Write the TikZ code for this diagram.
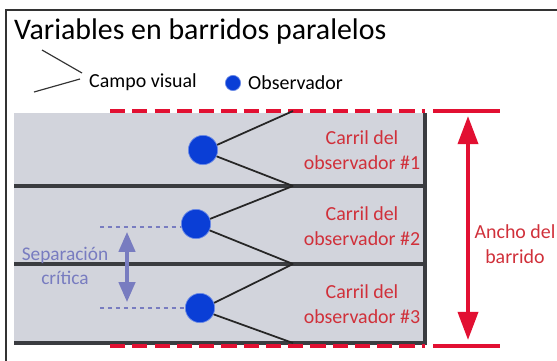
\documentclass[tikz,border=0pt]{standalone}
\usepackage{fontspec}
\setmainfont{Carlito}
\usetikzlibrary{arrows.meta}
\definecolor{lanegray}{RGB}{210,212,220}
\definecolor{lanedark}{RGB}{58,60,64}
\definecolor{obsblue}{RGB}{10,62,214}
\definecolor{swred}{RGB}{226,16,50}
\definecolor{lbred}{RGB}{208,48,58}
\definecolor{sepblue}{RGB}{120,124,192}
\tikzset{
  lane/.style={fill=lanegray, draw=none},
  laneedge/.style={draw=lanedark, line width=2.6pt},
  observer/.style={circle, fill=obsblue, draw=obsblue!60!white, line width=0.6pt, minimum size=25pt, inner sep=0pt},
  fov/.style={draw=black!85, line width=1.5pt},
  lanelabel/.style={text=lbred, font=\fontsize{17}{21}\selectfont, align=center},
  redline/.style={draw=swred, line width=4.2pt},
  sepline/.style={draw=sepblue, line width=2.4pt, dash pattern=on 3.8pt off 3pt},
}
\begin{document}
\begin{tikzpicture}[x=0.03cm, y=-0.03cm]
  \useasboundingbox (0,0) rectangle (557,360);
  % frame and title
  \draw[black!80, line width=1.6pt] (6,10) rectangle (570,375);
  \node[anchor=west, font=\fontsize{25.5}{28}\selectfont, inner sep=0pt] (title) at (14,32) {Variables en barridos paralelos};
  % legend
  \coordinate (fovA) at (42,50);
  \coordinate (fovB) at (82,73);
  \coordinate (fovC) at (80,79);
  \coordinate (fovD) at (34,92);
  \draw[black!80, line width=1pt] (fovA) -- (fovB);
  \draw[black!80, line width=1pt] (fovC) -- (fovD);
  \node[anchor=west, font=\fontsize{17}{20}\selectfont, inner sep=0pt] (campo) at (89,82) {Campo visual};
  \node[observer, minimum size=13pt] (legobs) at (233,83) {};
  \node[anchor=west, font=\fontsize{17}{20}\selectfont, inner sep=0pt] (obslabel) at (248,83) {Observador};
  % lanes
  \fill[lane] (14,113) rectangle (425,186);
  \fill[lane] (14,188) rectangle (425,264);
  \fill[lane] (14,266) rectangle (425,343);
  \draw[laneedge] (14,186) -- (425,186) -- (425,113);
  \draw[laneedge] (14,264) -- (425,264) -- (425,188);
  \draw[laneedge] (14,343) -- (425,343) -- (425,266);
  % sweep width
  \draw[redline, dash pattern=on 13pt off 6pt] (110,111) -- (425,111);
  \draw[redline, dash pattern=on 13pt off 6pt] (110,346) -- (425,346);
  \coordinate (topL) at (433,111);
  \coordinate (topR) at (500,111);
  \coordinate (botL) at (433,346);
  \coordinate (botR) at (500,346);
  \draw[redline] (topL) -- (topR);
  \draw[redline] (botL) -- (botR);
  \coordinate (arrT) at (468,116);
  \coordinate (arrB) at (468,340);
  \draw[draw=swred, line width=3.4pt, {Triangle[width=17pt,length=24pt]}-{Triangle[width=17pt,length=24pt]}] (arrT) -- (arrB);
  \node[text=lbred, font=\fontsize{17}{21}\selectfont, align=center, inner sep=0pt] (ancho) at (515,244) {Ancho del\\barrido};
  % observers
  \node[observer] (obs1) at (203,150) {};
  \node[observer] (obs2) at (196,224) {};
  \node[observer] (obs3) at (200,308) {};
  \coordinate (apex0) at (293,111);
  \coordinate (apex1) at (293,186);
  \coordinate (apex2) at (293,264);
  \coordinate (apex3) at (293,343);
  \draw[fov] (obs1.20) -- (apex0);
  \draw[fov] (obs1.-25) -- (apex1);
  \draw[fov] (obs2.20) -- (apex1);
  \draw[fov] (obs2.-25) -- (apex2);
  \draw[fov] (obs3.20) -- (apex2);
  \draw[fov] (obs3.-25) -- (apex3);
  % lane labels
  \node[lanelabel] (lab1) at (362,150) {Carril del\\observador \#1};
  \node[lanelabel] (lab2) at (362,226) {Carril del\\observador \#2};
  \node[lanelabel] (lab3) at (362,304) {Carril del\\observador \#3};
  % critical separation
  \coordinate (sep2) at (100,227);
  \coordinate (sep3) at (100,308);
  \draw[sepline] (sep2) -- (sep2 -| obs2.west);
  \draw[sepline] (sep3) -- (sep3 -| obs3.west);
  \coordinate (sepT) at (127,232);
  \coordinate (sepB) at (127,302);
  \draw[draw=sepblue, line width=2.8pt, {Triangle[width=14pt,length=17pt]}-{Triangle[width=14pt,length=17pt]}] (sepT) -- (sepB);
  \node[text=sepblue, font=\fontsize{16.5}{20}\selectfont, align=center, inner sep=0pt] (seplabel) at (65,266) {Separación\\crítica};
\end{tikzpicture}
\end{document}
